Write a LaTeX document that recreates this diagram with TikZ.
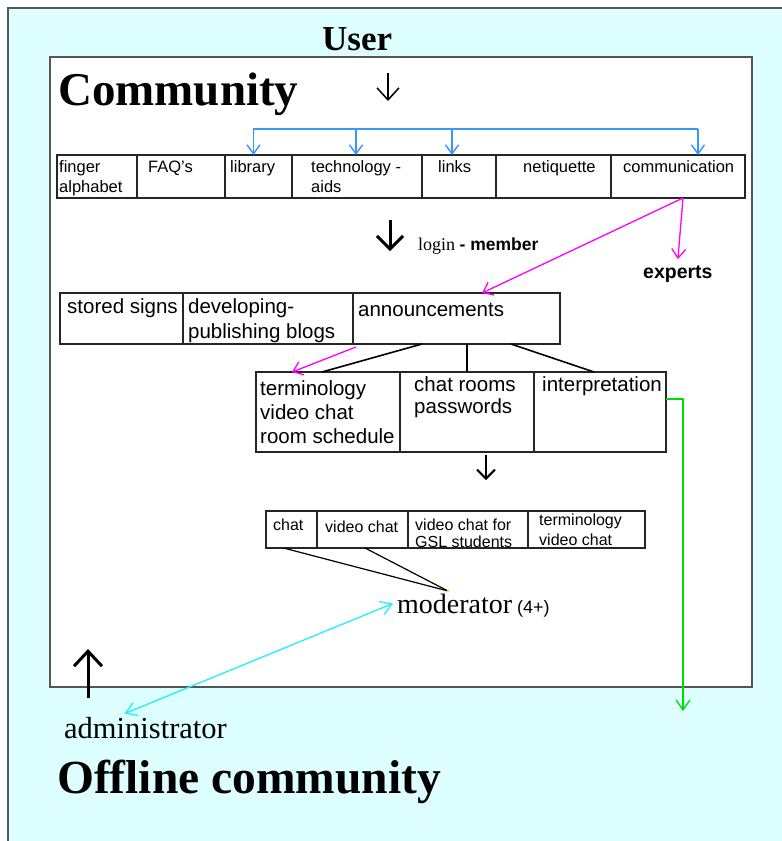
\documentclass[tikz,border=0pt]{standalone}
\usepackage{fontspec}
\setmainfont{Liberation Serif}
\setsansfont{Liberation Sans}
\usetikzlibrary{arrows.meta,positioning}
\definecolor{bgcyan}{HTML}{DDFFFF}
\definecolor{linkblue}{HTML}{3399FF}
\definecolor{linkpink}{HTML}{FF00FF}
\definecolor{linkgreen}{HTML}{00DD00}
\definecolor{linkcyan}{HTML}{22EEFF}
\definecolor{framegray}{HTML}{555555}

\begin{document}
\begin{tikzpicture}[x=1pt, y=-1pt,
    cell/.style={draw=black!85, line width=1.1pt, inner sep=0, outer sep=0, anchor=north west},
    smalltxt/.style={anchor=base west, inner sep=0, align=left, font=\sffamily\fontsize{16.5}{20}\selectfont},
    midtxt/.style={anchor=base west, inner sep=0, align=left, font=\sffamily\fontsize{20.5}{24.5}\selectfont},
    tinytxt/.style={anchor=base west, inner sep=0, align=left, font=\sffamily\fontsize{16}{18.5}\selectfont},
    headtxt/.style={anchor=base west, inner sep=0, font=\bfseries\fontsize{47}{50}\selectfont},
    bluearrow/.style={linkblue, line width=1.4pt, -{Straight Barb[length=9pt,width=13pt]}},
    pinkarrow/.style={linkpink, line width=1.3pt, -{Straight Barb[length=9pt,width=14pt]}},
    blackarrow/.style={black, line width=3pt, -{Straight Barb[length=13pt,width=26pt,line width=3pt]}}]
    \useasboundingbox (0,0) rectangle (782,841);
    \clip (0,0) rectangle (782,841);
    \fill[bgcyan] (8,8) rectangle (800,860);
    \draw[framegray, line width=1.5pt] (8,860) -- (8,8) -- (800,8);
    \draw[framegray, line width=1.5pt, fill=white] (50,57) rectangle (752,687);

    \node[headtxt, font=\bfseries\fontsize{35}{38}\selectfont] (user) at (322,50) {User};
    \node[headtxt] (community) at (58,105) {Community};
    \coordinate (u1) at (388,73);
    \coordinate (u2) at (388,101);
    \draw[line width=1.5pt, -{Straight Barb[length=12pt,width=22pt,line width=1.5pt]}] (u1) -- (u2);

    % open part
    \node[cell, minimum width=80, minimum height=43] (finger) at (57,155) {};
    \node[cell, minimum width=88, minimum height=43, right=0pt of finger] (faq) {};
    \node[cell, minimum width=67, minimum height=43, right=0pt of faq] (library) {};
    \node[cell, minimum width=130, minimum height=43, right=0pt of library] (tech) {};
    \node[cell, minimum width=74, minimum height=43, right=0pt of tech] (links) {};
    \node[cell, minimum width=115, minimum height=43, right=0pt of links] (netiq) {};
    \node[cell, minimum width=134, minimum height=43, right=0pt of netiq] (comm) {};
    % multi-line texts sit on the baseline of their last line
    \node[smalltxt] (tfinger) at (59,192) {finger\\alphabet};
    \node[smalltxt] (tfaq) at (148,172) {FAQ's};
    \node[smalltxt] (tlibrary) at (230,172) {library};
    \node[smalltxt] (ttech) at (311,192) {technology -\\aids};
    \node[smalltxt] (tlinks) at (438,172) {links};
    \node[smalltxt] (tnetiq) at (523,172) {netiquette};
    \node[smalltxt] (tcomm) at (623,172) {communication};

    \coordinate (bl) at (253,129);
    \coordinate (br) at (698,129);
    \draw[linkblue, line width=1.4pt] (bl) -- (br);
    \foreach \c/\dx in {library/-5, tech/-1, links/-7, comm/20}
        \draw[bluearrow] ([xshift=\dx pt]\c.north |- bl) -- ([xshift=\dx pt]\c.north);

    \coordinate (l1) at (390,220);
    \coordinate (l2) at (390,251);
    \draw[blackarrow] (l1) -- (l2);
    \node[anchor=base west, inner sep=0] (login) at (418,250)
        {\fontsize{18}{20}\selectfont login {\sffamily\bfseries\fontsize{17.5}{20}\selectfont - member}};
    \node[anchor=base west, inner sep=0, font=\sffamily\bfseries\fontsize{19.5}{22}\selectfont] (experts) at (643,278) {experts};

    % member part
    \node[cell, minimum width=123, minimum height=51] (stored) at (60,293) {};
    \node[cell, minimum width=170, minimum height=51, right=0pt of stored] (develop) {};
    \node[cell, minimum width=207, minimum height=51, right=0pt of develop] (announce) {};
    \node[midtxt] (tstored) at (67,313) {stored signs};
    \node[midtxt] (tdevelop) at (188,338) {developing-\\publishing blogs};
    \node[midtxt] (tannounce) at (358,316) {announcements};

    \node[cell, minimum width=144, minimum height=80] (term) at (256,372) {};
    \node[cell, minimum width=134, minimum height=80, right=0pt of term] (rooms) {};
    \node[cell, minimum width=132, minimum height=80, right=0pt of rooms] (interp) {};
    \node[midtxt, font=\sffamily\fontsize{20.5}{24}\selectfont] (tterm) at (260,443) {terminology\\video chat\\room schedule};
    \node[midtxt, font=\sffamily\fontsize{20.5}{22}\selectfont] (trooms) at (414,413) {chat rooms\\passwords};
    \node[midtxt] (tinterp) at (542,391) {interpretation};

    \draw[pinkarrow] ([xshift=5pt]comm.south) -- ([yshift=6pt]experts.north);
    \draw[pinkarrow] ([xshift=5pt]comm.south) -- ([xshift=25.5pt]announce.north);
    \draw[pinkarrow] ([shift={(3,3)}]announce.south west) -- ([xshift=36pt]term.north west);

    \draw[line width=1.6pt] ([xshift=-34.5pt]announce.south) -- ([xshift=-6pt]term.north);
    \draw[line width=1.1pt] (rooms.north |- announce.south) -- (rooms.north);
    \draw[line width=1.6pt] ([xshift=54.5pt]announce.south) -- ([xshift=-6pt]interp.north);

    \coordinate (s1) at (486,455);
    \coordinate (s2) at (486,480);
    \draw[line width=2pt, -{Straight Barb[length=9pt,width=18pt,line width=2pt]}] (s1) -- (s2);

    \coordinate (greenend) at (683,711);
    \draw[linkgreen, line width=1.3pt, -{Straight Barb[length=10pt,width=14pt]}] ([yshift=13pt]interp.east) -| (greenend);

    % chat part
    \node[cell, minimum width=51, minimum height=37] (chat) at (266,511) {};
    \node[cell, minimum width=91, minimum height=37, right=0pt of chat] (vchat) {};
    \node[cell, minimum width=120, minimum height=37, right=0pt of vchat] (gsl) {};
    \node[cell, minimum width=117, minimum height=37, right=0pt of gsl] (termvc) {};
    \node[tinytxt] (tchat) at (273,530) {chat};
    \node[tinytxt] (tvchat) at (325,532) {video chat};
    \node[tinytxt, font=\sffamily\fontsize{16}{17}\selectfont] (tgsl) at (415,547) {video chat for\\GSL students};
    \node[tinytxt, font=\sffamily\fontsize{16}{20}\selectfont] (ttermvc) at (539,545) {terminology\\video chat};

    \node[anchor=base west, inner sep=0, font=\fontsize{28}{30}\selectfont] (moderator) at (397,613) {moderator};
    \node[anchor=base west, inner sep=0, font=\sffamily\fontsize{18}{20}\selectfont] (plus) at (517,613) {(4+)};
    \coordinate (modtop) at (448,591);
    \draw[line width=1.2pt] ([xshift=-8pt]chat.south) -- (modtop);
    \draw[line width=1.2pt] ([xshift=2.5pt]vchat.south) -- (modtop);
    \fill[yellow!85!orange] (modtop) circle (1.5);

    \node[anchor=base west, inner sep=0, font=\fontsize{30.5}{32}\selectfont] (admin) at (64,738) {administrator};
    \draw[linkcyan, line width=1.3pt, {Straight Barb[length=11pt,width=14pt]}-{Straight Barb[length=11pt,width=14pt]}]
        ([shift={(-21,-3)}]admin.north) -- ([xshift=-4pt]moderator.west);
    \coordinate (a1) at (88,698);
    \coordinate (a2) at (88,649);
    \draw[blackarrow, -{Straight Barb[length=15pt,width=28pt,line width=3pt]}] (a1) -- (a2);

    \node[headtxt, font=\bfseries\fontsize{47.5}{50}\selectfont] (offline) at (57,793) {Offline community};
\end{tikzpicture}
\end{document}
